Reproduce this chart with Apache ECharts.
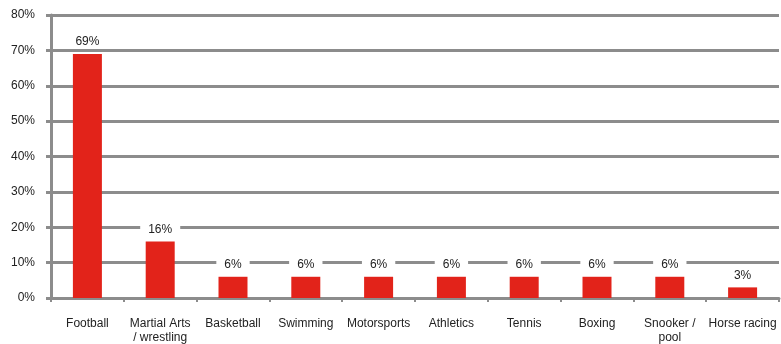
<!DOCTYPE html>
<html>
<head>
<meta charset="utf-8">
<script src="https://cdn.jsdelivr.net/npm/echarts@6/dist/echarts.min.js"></script>
<style>
  html, body { margin: 0; padding: 0; background: #fff; }
  #chart { width: 781px; height: 344px; }
</style>
</head>
<body>
<div id="chart"></div>
<script>
// sports categories and share of respondents
var categories = ['Football', 'Martial Arts\n/ wrestling', 'Basketball', 'Swimming', 'Motorsports',
                  'Athletics', 'Tennis', 'Boxing', 'Snooker /\npool', 'Horse racing'];
var shares = [69, 16, 6, 6, 6, 6, 6, 6, 6, 3];
var yTicks = [0, 10, 20, 30, 40, 50, 60, 70, 80];

var font = '"Liberation Sans", Arial, sans-serif';
var gray = '#8c8c8c';

var chart = echarts.init(document.getElementById('chart'));
chart.setOption({
    animation: false,
    textStyle: { fontFamily: font },
    grid: { left: 51, right: 2, top: 15, bottom: 46, containLabel: false, outerBoundsMode: 'none' },
    xAxis: {
        type: 'category',
        data: categories,
        axisLine: { lineStyle: { color: gray, width: 3 } },
        axisTick: { show: true, interval: 0, length: 4, lineStyle: { color: gray, width: 2 } },
        axisLabel: { interval: 0, color: '#222', fontSize: 12, margin: 19, lineHeight: 14, fontFamily: font }
    },
    yAxis: {
        type: 'value',
        min: yTicks[0],
        max: yTicks[yTicks.length - 1],
        interval: 10,
        axisLine: { show: true, lineStyle: { color: gray, width: 3 } },
        axisTick: { show: true, length: 5, lineStyle: { color: gray, width: 3 } },
        axisLabel: { color: '#222', fontSize: 12, margin: 16, formatter: '{value}%', fontFamily: font },
        splitLine: { lineStyle: { color: gray, width: 3 } }
    },
    series: [{
        type: 'bar',
        data: shares,
        barWidth: 29,
        itemStyle: { color: '#e2231a' },
        label: {
            show: true,
            position: 'top',
            distance: 6,
            formatter: '{c}%',
            color: '#222',
            fontSize: 12,
            fontFamily: font,
            backgroundColor: '#fff',
            padding: [0, 8, 0, 8]
        }
    }]
});
</script>
</body>
</html>
